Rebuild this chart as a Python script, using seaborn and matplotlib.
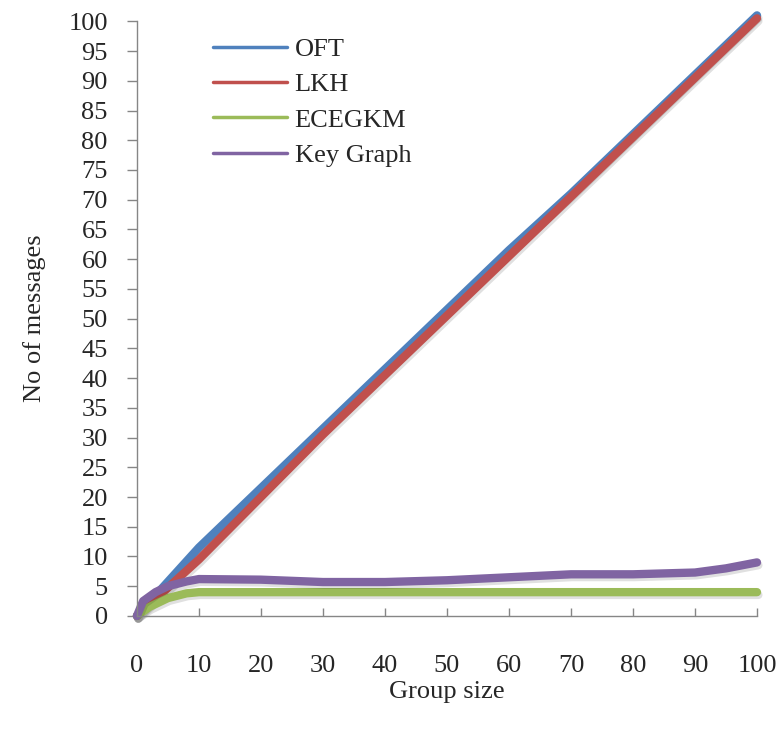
import pandas as pd
import numpy as np
import matplotlib.pyplot as plt
import matplotlib.patheffects as pe
import seaborn as sns

# values
group_size = [0, 10, 20, 30, 40, 50, 60, 70, 80, 90, 100]
oft = [0, 11.5, 21.5, 31.5, 41.5, 51.5, 61.5, 71, 81, 91, 101]
lkh = [0, 9.5, 20, 30.5, 40.5, 50.5, 60.5, 70.5, 80.5, 90.5, 100.5]

ece_x = [0, 2, 5, 8, 10, 20, 30, 40, 50, 60, 70, 80, 90, 100]
ecegkm = [0, 1.5, 3, 3.8, 4, 4, 4, 4, 4, 4, 4, 4, 4, 4]

kg_x = [0, 1, 3, 5, 8, 10, 20, 30, 40, 50, 60, 70, 80, 90, 95, 100]
key_graph = [0, 2.5, 4, 5, 5.8, 6.2, 6.1, 5.7, 5.7, 6, 6.5, 7, 7, 7.3, 8, 9]

series = ['OFT', 'LKH', 'ECEGKM', 'Key Graph']
colors = ['#4F81BD', '#C0504D', '#9BBB59', '#8064A2']

df = pd.concat([
    pd.DataFrame({'x': group_size, 'y': oft, 'series': 'OFT'}),
    pd.DataFrame({'x': group_size, 'y': lkh, 'series': 'LKH'}),
    pd.DataFrame({'x': ece_x, 'y': ecegkm, 'series': 'ECEGKM'}),
    pd.DataFrame({'x': kg_x, 'y': key_graph, 'series': 'Key Graph'}),
])

sns.set_style('white')
plt.rcParams['font.family'] = ['Liberation Serif', 'DejaVu Serif']

fig = plt.figure(figsize=(7.78, 7.35), dpi=100)
ax = fig.add_axes([0.176, 0.162, 0.797, 0.809])

sns.lineplot(data=df, x='x', y='y', hue='series', hue_order=series,
             palette=colors, linewidth=6, ax=ax, legend=False, sort=False,
             estimator=None)
for line in ax.lines:
    line.set_solid_capstyle('round')
    line.set_solid_joinstyle('round')
    line.set_clip_on(False)
    line.set_path_effects([pe.SimpleLineShadow(offset=(1, -2), alpha=0.12),
                           pe.Normal()])

ax.set_xlim(0, 100)
ax.set_ylim(0, 100)
ax.set_xticks(np.arange(0, 101, 10))
ax.set_yticks(np.arange(0, 101, 5))
for s in ['top', 'right']:
    ax.spines[s].set_visible(False)
for s in ['left', 'bottom']:
    ax.spines[s].set_color('#868686')
    ax.spines[s].set_linewidth(1)
ax.tick_params(axis='y', direction='out', length=7, width=1, color='#868686',
               pad=14, labelsize=19, left=True)
ax.tick_params(axis='x', direction='in', length=6, width=1, color='#868686',
               pad=28, labelsize=19, bottom=True)
ax.set_xlabel('Group size', fontsize=19, labelpad=3)
ax.set_ylabel('No of messages', fontsize=19, labelpad=16)

handles = [plt.Line2D([], [], color=c, lw=2.5) for c in colors]
ax.legend(handles, series, loc='upper left', bbox_to_anchor=(0.084, 1.013),
          frameon=False, fontsize=19, handlelength=2.8, handletextpad=0.3,
          labelspacing=0.45)

fig.savefig('out.png', dpi=100)
